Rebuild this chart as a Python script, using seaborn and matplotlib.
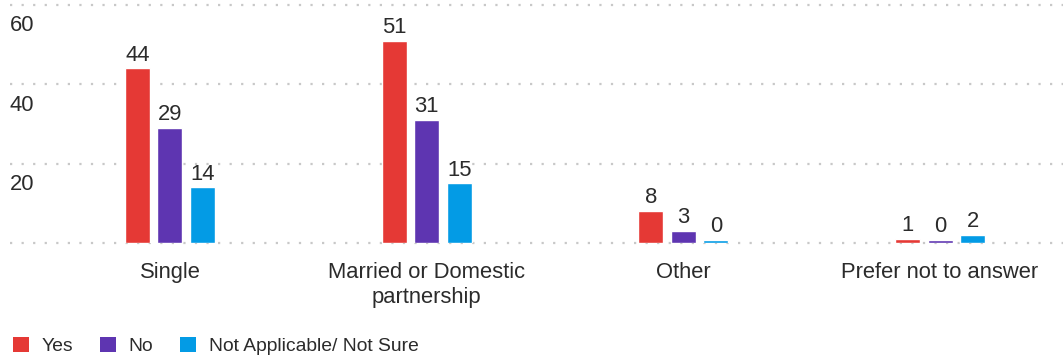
import matplotlib
matplotlib.use("Agg")
import matplotlib.pyplot as plt
import matplotlib.transforms as mtransforms
from matplotlib.patches import Patch
import seaborn as sns
import pandas as pd

categories = ["Single", "Married or Domestic\npartnership", "Other", "Prefer not to answer"]
series_names = ["Yes", "No", "Not Applicable/ Not Sure"]
yes_values = [44, 51, 8, 1]
no_values = [29, 31, 3, 0]
na_values = [14, 15, 0, 2]
y_ticks = [20, 40, 60]
colors = ["#E53935", "#5E35B1", "#039BE5"]

sns.set_theme(style="white")
plt.rcParams["font.family"] = ["Liberation Sans", "DejaVu Sans"]
text_color = "#2b2b2b"
fs = 15.8

rows = []
for name, vals in zip(series_names, [yes_values, no_values, na_values]):
    for cat, v in zip(categories, vals):
        rows.append({"category": cat, "series": name, "value": v,
                     "shown": max(v, 0.75)})
df = pd.DataFrame(rows)

fig = plt.figure(figsize=(10.63, 3.58), dpi=100)
ax = fig.add_axes([10 / 1063, (358 - 243) / 358, 1 - 10 / 1063, 243 / 358])

sns.barplot(data=df, x="category", y="shown", hue="series", order=categories,
            hue_order=series_names, palette=colors, width=0.38, gap=0.23,
            ax=ax, legend=False, saturation=1)

for cont, vals in zip(ax.containers, [yes_values, no_values, na_values]):
    ax.bar_label(cont, labels=[str(v) for v in vals], padding=2,
                 fontsize=fs, color=text_color)

ax.set_xlim(-0.623, 3.479)
ax.set_ylim(0, 61.26)
for s in ax.spines.values():
    s.set_visible(False)
for yv in [0] + y_ticks:
    ax.axhline(yv, color="#c8c8c8", linewidth=1.6, linestyle=(0, (1, 4.2)),
               zorder=0, clip_on=False)
ax.set_yticks([])
ax.set_xlabel("")
ax.set_ylabel("")
ax.tick_params(axis="x", length=0, pad=14, labelsize=fs, labelcolor=text_color)
for lbl in ax.get_xticklabels():
    lbl.set_linespacing(1.25)

trans = mtransforms.blended_transform_factory(ax.transAxes, ax.transData)
trans = mtransforms.offset_copy(trans, fig=fig, x=0, y=-21, units="dots")
for t in y_ticks:
    ax.text(0, t, str(t), transform=trans, ha="left", va="center",
            fontsize=fs, color=text_color)

handles = [Patch(facecolor=c, edgecolor="none", label=n) for c, n in zip(colors, series_names)]
fig.legend(handles=handles, loc="center left", bbox_to_anchor=(-4 / 1063, 1 - 346 / 358),
           ncol=3, frameon=False, fontsize=13.9, handlelength=0.82, handleheight=0.82,
           handletextpad=0.65, columnspacing=1.4, labelcolor=text_color)

fig.savefig("out.png", dpi=100)
